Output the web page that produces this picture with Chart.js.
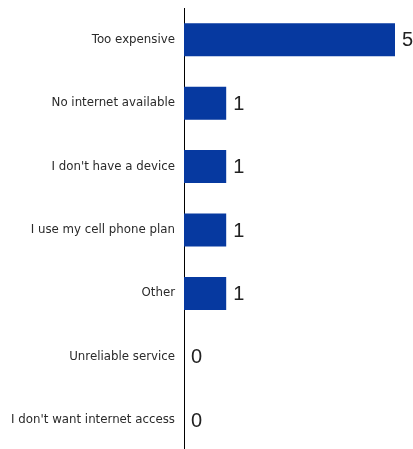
<!DOCTYPE html>
<html>
<head>
<meta charset="utf-8">
<script src="https://cdn.jsdelivr.net/npm/chart.js@4"></script>
<style>
  html, body { margin: 0; padding: 0; background: #fff; overflow: hidden; }
  #wrap { width: 413px; height: 452px; position: relative; }
</style>
</head>
<body>
<div id="wrap"><canvas id="reasonsChart"></canvas></div>
<script>
/* reasons for no home internet - horizontal bars */
const categories = [
  'Too expensive',
  'No internet available',
  "I don't have a device",
  'I use my cell phone plan',
  'Other',
  'Unreliable service',
  "I don't want internet access"
];
const counts = [5, 1, 1, 1, 1, 0, 0];
const xMax = 5;

// draws the count to the right of each bar
const valueLabels = {
  id: 'valueLabels',
  afterDatasetsDraw(chart) {
    const c = chart.ctx;
    const meta = chart.getDatasetMeta(0);
    c.save();
    c.font = '20px "Liberation Sans", Arial, sans-serif';
    c.fillStyle = '#222';
    c.textAlign = 'left';
    c.textBaseline = 'middle';
    meta.data.forEach((bar, i) => {
      c.fillText(String(counts[i]), bar.x + 7, bar.y + 1);
    });
    c.restore();
  }
};

new Chart(document.getElementById('reasonsChart'), {
  type: 'bar',
  data: {
    labels: categories,
    datasets: [{
      data: counts,
      backgroundColor: '#0639a0',
      borderWidth: 0,
      barPercentage: 0.52,
      categoryPercentage: 1
    }]
  },
  options: {
    indexAxis: 'y',
    responsive: true,
    maintainAspectRatio: false,
    animation: false,
    layout: { padding: { top: 8, right: 18, bottom: 0, left: 0 } },
    plugins: {
      legend: { display: false },
      tooltip: { enabled: false }
    },
    scales: {
      x: { display: false, min: 0, max: xMax },
      y: {
        afterFit(scale) {
          scale.width = 184;
          scale.paddingTop = 0;
          scale.paddingBottom = 0;
        },
        grid: { display: false, drawTicks: false },
        border: { display: true, color: '#000', width: 1 },
        ticks: {
          padding: 9,
          color: '#2a2a2a',
          font: { family: '"DejaVu Sans", sans-serif', size: 11.8 }
        }
      }
    }
  },
  plugins: [valueLabels]
});
</script>
</body>
</html>
